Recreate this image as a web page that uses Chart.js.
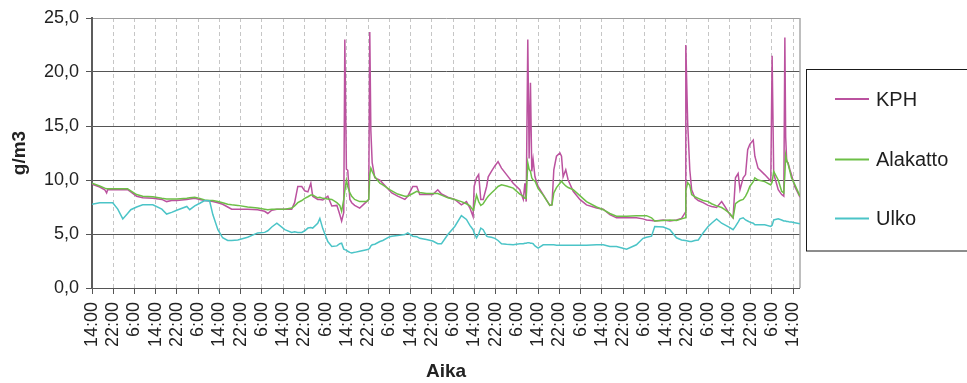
<!DOCTYPE html>
<html lang="fi">
<head>
<meta charset="utf-8">
<title>Kosteus g/m3</title>
<script src="https://cdn.jsdelivr.net/npm/chart.js@4/dist/chart.umd.min.js"></script>
<style>
  html, body { margin: 0; padding: 0; background: #ffffff; }
  #wrap { width: 967px; height: 383px; position: relative; }
  canvas { display: block; background: #ffffff; }
</style>
</head>
<body>
<div id="wrap"><canvas id="chart" width="967" height="383"></canvas></div>
<script>
// Measurement time in hours from the first 14:00 reading
const hours = [
  0, 2.9, 4.8, 5.5, 5.9, 7.8, 9.7, 11.6, 13.4, 14.6, 16.8, 19.1, 22.9, 26.3, 28.1, 30.0, 31.9, 35.7, 36.8, 38.7,
  40.6, 42.4, 44.3, 45.5, 47.4, 49.2, 51.1, 52.6, 54.9, 58.6, 62.4, 65.0, 66.2, 67.7, 69.6, 72.6, 75.2, 76.3, 77.5, 79.0,
  80.1, 81.3, 82.4, 83.1, 85.0, 85.8, 86.9, 88.8, 90.3, 92.2, 93.3, 94.0, 94.8, 95.2, 95.8, 96.3, 97.1, 97.8, 98.9, 100.8,
  103.4, 104.2, 104.6, 105.0, 105.5, 106.5, 108.4, 109.5, 112.1, 112.9, 115.1, 117.8, 118.9, 120.8, 122.3, 123.4, 125.9, 128.3, 130.2, 131.6,
  134.0, 136.6, 139.1, 141.0, 142.3, 143.5, 143.9, 144.8, 145.6, 146.4, 147.3, 148.6, 149.2, 150.4, 151.7, 152.9, 154.2, 156.1, 158.6, 161.1,
  162.4, 163.0, 163.5, 164.1, 164.6, 165.1, 165.6, 166.1, 166.8, 168.0, 169.9, 172.4, 173.2, 173.9, 174.9, 176.2, 176.8, 177.4, 178.4, 179.3,
  181.2, 183.7, 186.2, 190.0, 192.5, 195.0, 197.5, 201.3, 205.0, 207.5, 208.8, 210.7, 211.9, 215.1, 217.6, 220.1, 222.0, 223.4, 223.6, 224.3,
  225.1, 225.8, 227.0, 228.3, 230.1, 232.0, 233.3, 235.2, 237.1, 238.3, 240.2, 241.4, 242.3, 243.3, 244.0, 245.2, 246.1, 246.9, 247.7, 249.0,
  249.6, 250.8, 253.3, 255.6, 256.1, 256.7, 258.4, 259.7, 260.5, 260.9, 261.2, 261.6, 262.1, 262.8, 263.4, 264.6, 266.6
];

// KPH (g/m3)
const kph = [
  9.6, 9.35, 9.1, 8.8, 9.1, 9.1, 9.1, 9.1, 9.1, 8.9, 8.5, 8.35, 8.3, 8.2, 8.0, 8.1, 8.1, 8.2, 8.25, 8.3,
  8.2, 8.1, 8.05, 8.0, 7.9, 7.75, 7.5, 7.3, 7.3, 7.3, 7.25, 7.1, 6.9, 7.2, 7.3, 7.3, 7.3, 7.9, 9.4, 9.4,
  9.0, 8.9, 9.7, 8.5, 8.2, 8.2, 8.15, 8.5, 7.6, 7.65, 6.8, 6.2, 7.0, 23.0, 11.0, 10.9, 8.2, 7.9, 7.65, 7.4,
  8.0, 8.2, 23.7, 14.6, 11.6, 10.2, 10.0, 9.7, 9.0, 8.8, 8.5, 8.2, 8.5, 9.4, 9.4, 8.65, 8.65, 8.65, 9.1, 8.7,
  8.4, 8.2, 7.7, 8.0, 7.4, 6.6, 9.4, 10.2, 10.5, 8.2, 8.2, 9.4, 10.3, 10.8, 11.3, 11.7, 11.1, 10.5, 9.7, 9.1,
  8.2, 9.7, 8.0, 23.0, 12.0, 19.0, 10.8, 11.9, 10.3, 9.4, 8.65, 7.65, 7.7, 10.95, 12.2, 12.5, 12.2, 10.3, 10.95, 10.0,
  8.95, 8.2, 7.7, 7.4, 7.3, 6.8, 6.5, 6.5, 6.5, 6.4, 6.3, 6.25, 6.2, 6.3, 6.2, 6.3, 6.45, 7.0, 22.5, 15.3,
  10.95, 9.1, 8.35, 8.1, 7.9, 7.65, 7.55, 7.45, 8.0, 7.55, 6.8, 6.5, 10.2, 10.6, 9.1, 10.2, 10.5, 12.8, 13.3, 13.7,
  12.2, 11.1, 10.5, 9.9, 21.5, 10.6, 9.1, 8.65, 8.5, 23.2, 14.0, 11.7, 11.6, 10.95, 10.5, 9.4, 8.4
];

// Alakatto (g/m3)
const alakatto = [
  9.7, 9.45, 9.25, 9.2, 9.2, 9.2, 9.2, 9.2, 9.2, 9.0, 8.65, 8.5, 8.45, 8.3, 8.25, 8.25, 8.25, 8.3, 8.35, 8.4,
  8.3, 8.15, 8.1, 8.1, 8.0, 7.9, 7.75, 7.7, 7.65, 7.5, 7.4, 7.3, 7.25, 7.3, 7.3, 7.3, 7.4, 7.6, 7.9, 8.1,
  8.3, 8.45, 8.6, 8.6, 8.35, 8.4, 8.3, 8.25, 8.2, 7.9, 7.65, 7.1, 8.2, 9.0, 10.0, 9.4, 8.8, 8.5, 8.2, 8.0,
  8.0, 8.2, 10.5, 11.1, 10.8, 10.3, 9.7, 9.55, 9.1, 9.0, 8.7, 8.5, 8.5, 8.75, 8.95, 8.85, 8.75, 8.75, 8.75, 8.6,
  8.35, 8.2, 8.0, 7.8, 7.6, 7.2, 7.5, 8.6, 8.0, 7.65, 7.8, 8.3, 8.5, 8.8, 9.1, 9.4, 9.55, 9.45, 9.25, 8.7,
  8.5, 8.3, 8.3, 11.6, 11.0, 10.8, 10.2, 10.0, 9.9, 9.2, 8.6, 7.65, 7.7, 8.8, 9.3, 9.7, 9.9, 9.7, 9.45, 9.3,
  9.1, 8.55, 8.0, 7.5, 7.25, 6.9, 6.65, 6.65, 6.7, 6.7, 6.7, 6.5, 6.2, 6.25, 6.3, 6.25, 6.4, 6.5, 9.0, 9.75,
  9.5, 8.65, 8.45, 8.3, 8.1, 8.0, 7.8, 7.6, 7.45, 7.25, 6.9, 6.5, 7.8, 8.0, 8.1, 8.2, 8.5, 8.9, 9.4, 9.85,
  10.2, 10.0, 9.85, 9.55, 9.8, 10.8, 10.0, 8.95, 8.8, 10.5, 12.3, 11.8, 11.5, 10.8, 10.2, 9.6, 8.5
];

// Ulko (g/m3)
const ulko = [
  7.75, 7.9, 7.9, 7.9, 7.9, 7.9, 7.3, 6.4, 6.9, 7.25, 7.5, 7.7, 7.7, 7.3, 6.85, 7.0, 7.2, 7.55, 7.25, 7.6,
  7.85, 8.1, 8.05, 6.8, 5.4, 4.65, 4.4, 4.4, 4.45, 4.7, 5.1, 5.15, 5.3, 5.65, 6.0, 5.4, 5.15, 5.2, 5.15, 5.15,
  5.3, 5.55, 5.6, 5.55, 6.0, 6.45, 5.5, 4.3, 3.85, 3.9, 4.1, 4.15, 3.6, 3.55, 3.5, 3.4, 3.3, 3.25, 3.3, 3.4,
  3.55, 3.6, 3.7, 3.9, 4.0, 4.05, 4.3, 4.4, 4.75, 4.8, 4.85, 4.95, 5.1, 4.8, 4.75, 4.6, 4.5, 4.35, 4.1, 4.1,
  4.95, 5.7, 6.7, 6.35, 5.8, 5.4, 5.1, 4.65, 5.0, 5.55, 5.4, 4.8, 4.75, 4.7, 4.6, 4.4, 4.1, 4.05, 4.0, 4.1,
  4.1, 4.15, 4.15, 4.2, 4.2, 4.15, 4.15, 4.1, 3.9, 3.7, 4.0, 4.0, 4.0, 4.0, 3.95, 3.95, 3.95, 3.95, 3.95, 3.95,
  3.95, 3.95, 3.95, 4.0, 4.0, 3.85, 3.85, 3.6, 4.0, 4.6, 4.7, 4.8, 5.7, 5.65, 5.4, 4.65, 4.45, 4.4, 4.4, 4.35,
  4.3, 4.3, 4.4, 4.45, 5.1, 5.7, 6.0, 6.4, 6.0, 5.85, 5.6, 5.4, 5.7, 6.1, 6.4, 6.5, 6.3, 6.2, 6.1, 6.0,
  5.85, 5.85, 5.85, 5.7, 5.8, 6.3, 6.4, 6.3, 6.2, 6.2, 6.2, 6.15, 6.15, 6.1, 6.1, 6.05, 5.95
];

// Clock labels every 8 hours along the time axis
const tickLabels = [
  '14:00', '22:00', '6:00', '14:00', '22:00', '6:00', '14:00', '22:00', '6:00', '14:00', '22:00', '6:00',
  '14:00', '22:00', '6:00', '14:00', '22:00', '6:00', '14:00', '22:00', '6:00', '14:00', '22:00', '6:00',
  '14:00', '22:00', '6:00', '14:00', '22:00', '6:00', '14:00', '22:00', '6:00', '14:00'
];
const tickStepHours = 8;
const yTicks = [0, 5, 10, 15, 20, 25];

const seriesNames = ['KPH', 'Alakatto', 'Ulko'];
const seriesColors = ['#BB529F', '#6DBF47', '#4BC4C7'];

const FONT = '"Liberation Sans", Arial, Helvetica, sans-serif';

function points(values) {
  return hours.map((h, i) => ({ x: h, y: values[i] }));
}

// Thin grey frame on the right edge of the plot area
const plotFrame = {
  id: 'plotFrame',
  beforeDatasetsDraw(chart) {
    const { ctx, chartArea: a } = chart;
    ctx.save();
    ctx.strokeStyle = '#a8a8a8';
    ctx.lineWidth = 1.5;
    ctx.beginPath();
    ctx.moveTo(a.right, a.top);
    ctx.lineTo(a.right, a.bottom);
    ctx.stroke();
    ctx.restore();
  }
};

// Boxed legend to the right of the plot
const boxedLegend = {
  id: 'boxedLegend',
  afterDraw(chart) {
    const ctx = chart.ctx;
    const box = { x: 806.5, y: 69.5, w: 200, h: 181.5 };
    const rows = [99, 159.5, 218.5];
    ctx.save();
    ctx.strokeStyle = '#1a1a1a';
    ctx.lineWidth = 1;
    ctx.strokeRect(box.x, box.y, box.w, box.h);
    ctx.font = '20px ' + FONT;
    ctx.textBaseline = 'middle';
    ctx.textAlign = 'left';
    chart.data.datasets.forEach((ds, i) => {
      const y = rows[i];
      ctx.strokeStyle = ds.borderColor;
      ctx.lineWidth = 2;
      ctx.beginPath();
      ctx.moveTo(835, y);
      ctx.lineTo(869, y);
      ctx.stroke();
      ctx.fillStyle = '#1e1e1e';
      ctx.fillText(ds.label, 876, y + 1);
    });
    ctx.restore();
  }
};

const datasets = [kph, alakatto, ulko].map((vals, i) => ({
  label: seriesNames[i],
  data: points(vals),
  borderColor: seriesColors[i],
  backgroundColor: seriesColors[i],
  borderWidth: 1.5,
  pointRadius: 0,
  tension: 0,
  fill: false,
  order: 3 - i
}));

new Chart(document.getElementById('chart'), {
  type: 'line',
  data: { datasets },
  options: {
    responsive: false,
    animation: false,
    events: [],
    layout: { padding: { top: 18, right: 167, bottom: 0, left: 0 } },
    plugins: {
      legend: { display: false },
      tooltip: { enabled: false }
    },
    scales: {
      x: {
        type: 'linear',
        min: 0,
        max: 266.6,
        afterFit: (scale) => { scale.height = 95; },
        afterBuildTicks: (scale) => {
          scale.ticks = tickLabels.map((_, i) => ({ value: i * tickStepHours }));
        },
        ticks: {
          autoSkip: false,
          minRotation: 90,
          maxRotation: 90,
          padding: 8,
          color: '#222222',
          font: { family: FONT, size: 18 },
          callback: (value, index) => tickLabels[index]
        },
        grid: {
          color: (c) => (c.index === 0 ? 'rgba(0,0,0,0)' : '#c6c6c6'),
          lineWidth: 1,
          borderDash: [4, 3],
          tickLength: 6,
          tickColor: '#555555',
          tickWidth: 1
        },
        border: { display: false, dash: [4, 3] },
        title: {
          display: true,
          text: 'Aika',
          color: '#222222',
          font: { family: FONT, size: 19, weight: 'bold' },
          padding: { top: 0, bottom: 0 }
        }
      },
      y: {
        min: 0,
        max: 25,
        afterFit: (scale) => { scale.width = 92; },
        afterBuildTicks: (scale) => {
          scale.ticks = yTicks.map((v) => ({ value: v }));
        },
        ticks: {
          padding: 7,
          color: '#222222',
          font: { family: FONT, size: 18 },
          callback: (value) => value.toFixed(1).replace('.', ',')
        },
        grid: {
          color: (c) => (c.tick && c.tick.value === 25 ? '#9c9c9c' : '#555555'),
          lineWidth: 1,
          tickLength: 6,
          tickColor: '#555555'
        },
        border: { display: true, color: '#5c5c5c', width: 2 },
        title: {
          display: true,
          text: 'g/m3',
          color: '#222222',
          font: { family: FONT, size: 19, weight: 'bold' },
          padding: { top: 8, bottom: 0 }
        }
      }
    }
  },
  plugins: [plotFrame, boxedLegend]
});
</script>
</body>
</html>
